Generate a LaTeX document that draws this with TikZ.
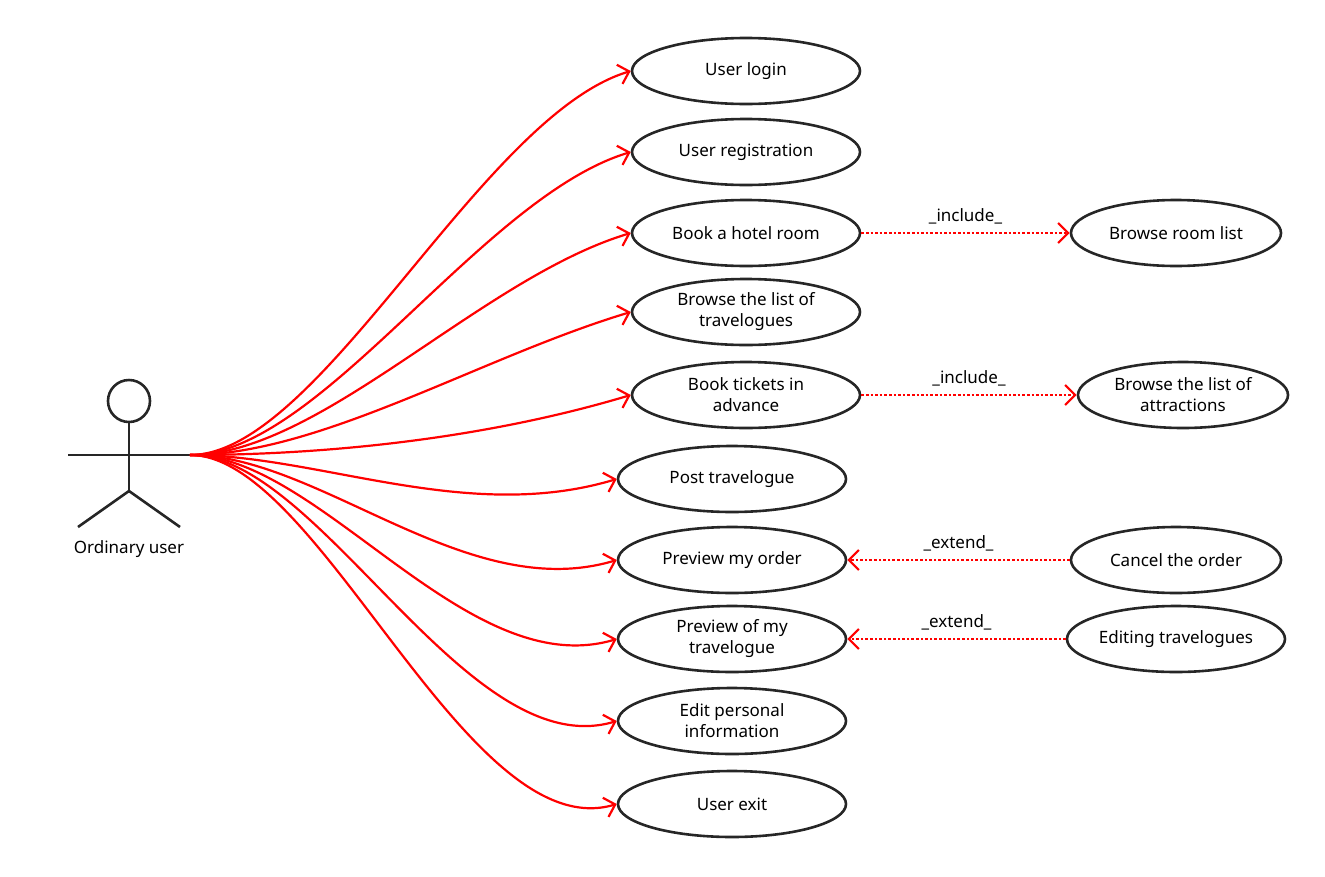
\documentclass[tikz,border=0pt]{standalone}
\usepackage{fontspec}
\setmainfont{Noto Sans}
\usetikzlibrary{arrows.meta,shapes.geometric,calc}
\begin{document}
\begin{tikzpicture}[x=1pt,y=-1pt,
 uc/.style={draw=black!85,line width=2.6pt,ellipse,minimum width=#1,minimum height=66pt,align=center,inner sep=0pt,font=\fontsize{17}{21}\selectfont},
 uc/.default=228pt,
 link/.style={red,line width=2.2pt,-{Straight Barb[length=10pt,width=20pt,line width=2.2pt]}},
 dep/.style={red,line width=2.6pt,dotted,-{Straight Barb[length=10pt,width=20pt,line width=2.2pt,line cap=butt]}},
 lab/.style={font=\fontsize{17}{21}\selectfont},
 act/.style={black!85,line width=2.6pt}]
\useasboundingbox (0,0) rectangle (1325,876);
\node[uc] (a) at (746,71) {User login};
\node[uc] (b) at (746,152) {User registration};
\node[uc] (c) at (746,233) {Book a hotel room};
\node[uc] (d) at (746,312) {Browse the list of\\travelogues};
\node[uc] (e) at (746,395) {Book tickets in\\advance};
\node[uc] (f) at (732,479) {Post travelogue};
\node[uc] (g) at (732,560) {Preview my order};
\node[uc] (h) at (732,639) {Preview of my\\travelogue};
\node[uc] (i) at (732,721) {Edit personal\\information};
\node[uc] (j) at (732,804) {User exit};
\node[uc=210pt] (k) at (1176,233) {Browse room list};
\node[uc=210pt] (l) at (1183,395) {Browse the list of\\attractions};
\node[uc=210pt] (m) at (1176,560) {Cancel the order};
\node[uc=210pt] (n) at (1176,639) {Editing travelogues};
% actor
\node[draw=black!85,line width=2.6pt,circle,minimum size=42pt,inner sep=0pt] (head) at (129,401) {};
\coordinate (hip) at (129,491);
\coordinate (la) at (68,455);
\coordinate (ra) at (190,455);
\coordinate (ll) at (78,527);
\coordinate (rl) at (180,527);
\draw[act] (head.south) -- (hip);
\draw[act] (la) -- (ra);
\draw[act] (ll) -- (hip) -- (rl);
\node[lab] (au) at (129,549) {Ordinary user};
\foreach \t in {a,b,c,d,e,f,g,h,i,j}{
  \draw[link] (ra) .. controls ($(ra)+(130,0)$) and ($(\t.west)+(-150,45)$) .. (\t.west);
}
\draw[dep] (c.east) -- (k.west) node[midway,above=4pt,lab,text=black] {\_include\_};
\draw[dep] (e.east) -- (l.west) node[midway,above=4pt,lab,text=black] {\_include\_};
\draw[dep] (m.west) -- (g.east) node[midway,above=4pt,lab,text=black] {\_extend\_};
\draw[dep] (n.west) -- (h.east) node[midway,above=4pt,lab,text=black] {\_extend\_};
\end{tikzpicture}
\end{document}
